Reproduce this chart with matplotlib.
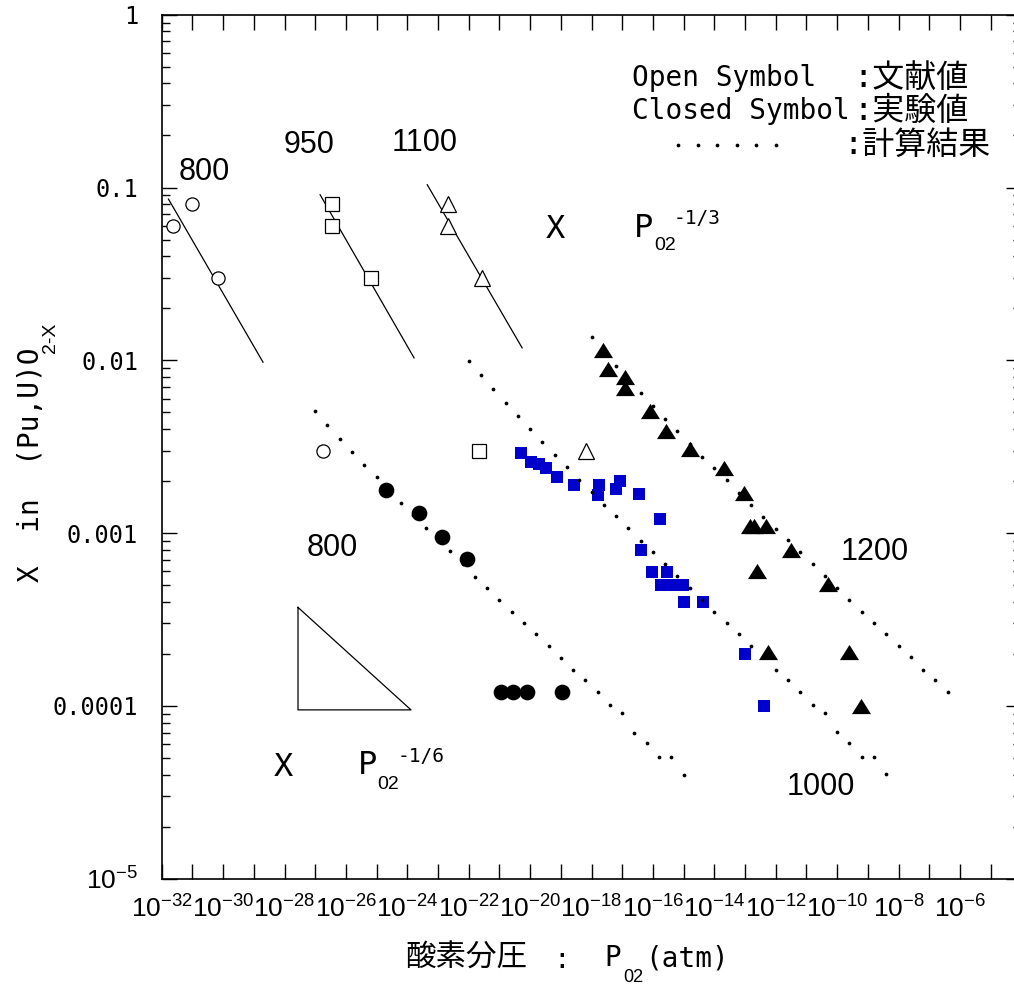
"""Non-stoichiometry of (Pu,U)O2-x versus oxygen partial pressure."""
import matplotlib
matplotlib.use("Agg")
import matplotlib.pyplot as plt
from matplotlib.ticker import FixedLocator, FuncFormatter, NullFormatter
import numpy as np

MONO = "DejaVu Sans Mono"
SANS = "Liberation Sans"
CJK = "Noto Sans CJK JP"
plt.rcParams["font.family"] = [MONO, CJK]
plt.rcParams["mathtext.fontset"] = "custom"
plt.rcParams["mathtext.rm"] = SANS
plt.rcParams["mathtext.it"] = SANS
plt.rcParams["mathtext.default"] = "rm"

# ---- literature values (open symbols): log10 P_O2 [atm], x -----------------
lit_800_logp = [-31.62, -31.02, -30.16, -26.76]
lit_800_x = [0.06, 0.08, 0.03, 0.003]
lit_950_logp = [-26.46, -26.46, -25.18, -21.66]
lit_950_x = [0.08, 0.06, 0.03, 0.003]
lit_1100_logp = [-22.67, -22.67, -21.57, -18.18]
lit_1100_x = [0.08, 0.06, 0.03, 0.003]

# P^-1/3 fits through the literature data (end points, log10 values)
fit_800_logp = [-31.78, -28.70]
fit_800_logx = [-1.067, -2.011]
fit_950_logp = [-26.84, -23.78]
fit_950_logx = [-1.042, -1.986]
fit_1100_logp = [-23.35, -20.26]
fit_1100_logx = [-0.984, -1.928]

# ---- experimental values (closed symbols) ----------------------------------
exp_800_logp = [-24.69, -23.63, -22.88, -22.07, -20.95, -20.57, -20.11, -18.97]
exp_800_x = [0.00177, 0.0013, 0.00095, 0.00071, 0.00012, 0.00012, 0.00012, 0.00012]

exp_1000_logp = [-20.29, -19.97, -19.72, -19.47, -19.13, -18.58, -17.77, -17.79,
                 -17.19, -17.08, -16.46, -15.76, -16.40, -16.02, -15.54, -15.72,
                 -15.40, -15.02, -14.98, -14.38, -13.00, -12.37]
exp_1000_x = [0.00289, 0.00257, 0.00252, 0.00239, 0.00211, 0.00189, 0.00189, 0.00167,
              0.00179, 0.00200, 0.00169, 0.00120, 0.000797, 0.000595, 0.000595, 0.0005,
              0.0005, 0.0005, 0.0004, 0.0004, 0.000201, 0.0001]

exp_1200_logp = [-17.63, -17.45, -16.92, -16.90, -16.11, -15.56, -14.79, -13.70,
                 -13.04, -12.85, -12.71, -12.30, -11.51, -12.62, -10.31, -12.26,
                 -9.62, -9.23]
exp_1200_x = [0.0115, 0.0089, 0.0080, 0.0069, 0.00507, 0.00389, 0.00308, 0.00239,
              0.00170, 0.00110, 0.00110, 0.00110, 0.00080, 0.00060, 0.000505, 0.000204,
              0.000204, 0.0001]

# ---- calculated curves (log10 P_O2, log10 x) -------------------------------
calc_800_logp = [-27.0, -26.6, -26.2, -25.8, -25.4, -25.0, -24.6, -24.2, -23.8, -23.4,
                 -23.0, -22.6, -22.2, -21.8, -21.4, -21.0, -20.6, -20.2, -19.8, -19.4,
                 -19.0, -18.6, -18.2, -17.8, -17.4, -17.0, -16.6, -16.2, -15.8, -15.4,
                 -15.0]
calc_800_logx = [-2.292, -2.373, -2.453, -2.530, -2.605, -2.678, -2.753, -2.824, -2.898,
                 -2.971, -3.036, -3.104, -3.180, -3.252, -3.318, -3.387, -3.457, -3.522,
                 -3.584, -3.655, -3.720, -3.792, -3.851, -3.917, -3.996, -4.042, -4.154,
                 -4.217, -4.298, -4.298, -4.397]

calc_1000_logp = [-22.0, -21.6, -21.2, -20.8, -20.4, -20.0, -19.6, -19.2, -18.8, -18.4,
                  -18.0, -17.6, -17.2, -16.8, -16.4, -16.0, -15.6, -15.2, -14.8, -14.4,
                  -14.0, -13.6, -13.2, -12.8, -12.4, -12.0, -11.6, -11.2, -10.8, -10.4,
                  -10.0, -9.6, -9.2, -8.8, -8.4]
calc_1000_logx = [-2.006, -2.087, -2.168, -2.246, -2.321, -2.399, -2.474, -2.547, -2.620,
                  -2.694, -2.761, -2.836, -2.903, -2.973, -3.043, -3.112, -3.177, -3.250,
                  -3.318, -3.387, -3.454, -3.522, -3.584, -3.653, -3.719, -3.792, -3.851,
                  -3.917, -3.996, -4.040, -4.152, -4.217, -4.298, -4.298, -4.395]

calc_1200_logp = [-18.0, -17.6, -17.2, -16.8, -16.4, -16.0, -15.6, -15.2, -14.8, -14.4,
                  -14.0, -13.6, -13.2, -12.8, -12.4, -12.0, -11.6, -11.2, -10.8, -10.4,
                  -10.0, -9.6, -9.2, -8.8, -8.4, -8.0, -7.6, -7.2, -6.8, -6.4]
calc_1200_logx = [-1.867, -1.950, -2.031, -2.109, -2.187, -2.262, -2.337, -2.412, -2.484,
                  -2.557, -2.626, -2.695, -2.768, -2.840, -2.908, -2.977, -3.042, -3.112,
                  -3.179, -3.249, -3.318, -3.387, -3.454, -3.522, -3.584, -3.653, -3.718,
                  -3.792, -3.851, -3.917]

# slope guide for x ~ P^-1/6
guide_logp = [-27.56, -27.56, -23.88, -27.56]
guide_logx = [-3.43, -4.023, -4.023, -3.43]


def p(vals):
    return 10.0 ** np.asarray(vals)


W, H = 1014, 991
fig = plt.figure(figsize=(W / 100, H / 100), dpi=100)
# the right-hand frame runs just past the edge of the page
ax = fig.add_axes([161.7 / W, 1 - 878.7 / H, (1021.3 - 161.7) / W, (878.7 - 14.7) / H])
ax.set_xscale("log")
ax.set_yscale("log")
ax.set_xlim(1e-32, 1e-4)
ax.set_ylim(1e-5, 1)

# open symbols + fitted lines
ax.plot(p(lit_800_logp), lit_800_x, "o", ms=9.5, mfc="white", mec="black", mew=0.9, zorder=4)
ax.plot(p(lit_950_logp), lit_950_x, "s", ms=10.5, mfc="white", mec="black", mew=0.9, zorder=4)
ax.plot(p(lit_1100_logp), lit_1100_x, "^", ms=11, mfc="white", mec="black", mew=0.9, zorder=4)
for lp, lx in [(fit_800_logp, fit_800_logx), (fit_950_logp, fit_950_logx),
               (fit_1100_logp, fit_1100_logx)]:
    ax.plot(p(lp), p(lx), color="black", lw=0.9, zorder=3)

# closed symbols
flat_tri = [(-1, -0.8), (1, -0.8), (0, 0.8), (-1, -0.8)]
ax.plot(p(exp_800_logp), exp_800_x, "o", ms=11.3, color="black", mew=0, zorder=4)
ax.plot(p(exp_1000_logp), exp_1000_x, "s", ms=8.4, color="#0000cc", mew=0, zorder=4)
ax.plot(p(exp_1200_logp), exp_1200_x, marker=flat_tri, ls="none", ms=13.7,
        color="black", mew=0, zorder=4)

# calculated points
for lp, lx in [(calc_800_logp, calc_800_logx), (calc_1000_logp, calc_1000_logx),
               (calc_1200_logp, calc_1200_logx)]:
    ax.plot(p(lp), p(lx), "o", ms=2.7, color="black", mew=0, zorder=5)

ax.plot(p(guide_logp), p(guide_logx), color="black", lw=0.9)

# temperature labels
for lp, lx, s in [(-30.62, -0.909, "800"), (-27.2, -0.753, "950"), (-23.42, -0.742, "1100"),
                  (-26.45, -3.087, "800"), (-8.78, -3.112, "1200"), (-10.54, -4.470, "1000")]:
    ax.text(10 ** lp, 10 ** lx, s, fontsize=22, family=SANS, ha="center", va="center")

# X ~ P_O2^n annotations
for xp, pp, sub, sup, expo in [((-19.19, -1.245), (-16.62, -1.239), (-15.95, -1.337),
                                (-15.34, -1.178), "-1/3"),
                               ((-28.05, -4.354), (-25.61, -4.347), (-24.97, -4.455),
                                (-24.30, -4.291), "-1/6")]:
    ax.text(10 ** xp[0], 10 ** xp[1], "X", fontsize=23, ha="center", va="center")
    ax.text(10 ** pp[0], 10 ** pp[1], "P", fontsize=23, ha="left", va="center")
    ax.text(10 ** sub[0], 10 ** sub[1], "02", fontsize=14, family=SANS, ha="left", va="center")
    ax.text(10 ** sup[0], 10 ** sup[1], expo, fontsize=14, ha="left", va="center")

# axes decoration
xt = 10.0 ** np.arange(-32, -3)
ax.xaxis.set_major_locator(FixedLocator(xt))
ax.xaxis.set_minor_locator(FixedLocator([]))
ax.xaxis.set_minor_formatter(NullFormatter())


def xfmt(v, pos):
    e = int(round(np.log10(v)))
    if e % 2 == 0 and e <= -6:
        return r"$10^{%d}$" % e
    return ""


ax.xaxis.set_major_formatter(FuncFormatter(xfmt))

ylabels = {-5: r"$10^{-5}$", -4: "0.0001", -3: "0.001", -2: "0.01", -1: "0.1", 0: "1"}
ax.yaxis.set_major_locator(FixedLocator(10.0 ** np.arange(-5, 1)))
ax.yaxis.set_major_formatter(FuncFormatter(lambda v, pos: ylabels.get(int(round(np.log10(v))), "")))
ax.yaxis.set_minor_locator(FixedLocator([m * 10.0 ** e for e in range(-5, 0) for m in range(2, 10)]))
ax.yaxis.set_minor_formatter(NullFormatter())

ax.tick_params(which="both", direction="in", top=True, right=True, width=1)
ax.tick_params(which="major", length=10.8)
ax.tick_params(which="minor", length=5.8)
ax.tick_params(axis="x", labelsize=19, pad=13)
ax.tick_params(axis="y", labelsize=17, pad=17)
# the 10^-5 label is set in the same size as the x labels
ax.yaxis.get_major_ticks()[0].label1.set_fontsize(19)
for sp in ax.spines.values():
    sp.set_linewidth(1.2)

# axis titles
fig.text(31 / W, 1 - 465 / H, "X  in  (Pu,U)O", rotation=90, fontsize=20,
         ha="center", va="center")
fig.text(51 / W, 1 - 338 / H, "2-X", rotation=90, fontsize=14, family=SANS,
         ha="center", va="center")
fig.text(405 / W, 1 - 958 / H, "酸素分圧", family=CJK, fontsize=22, ha="left", va="center")
fig.text(562 / W, 1 - 960 / H, ":", fontsize=20, ha="center", va="center")
fig.text(604 / W, 1 - 958 / H, "P", fontsize=20, ha="left", va="center")
fig.text(623 / W, 1 - 977 / H, "02", fontsize=13, family=SANS, ha="left", va="center")
fig.text(645 / W, 1 - 958 / H, "(atm)", fontsize=20, ha="left", va="center")

# key
fam = [MONO, CJK]
fig.text(632 / W, 1 - 78 / H, "Open Symbol", fontsize=20, family=fam, ha="left", va="center")
fig.text(853 / W, 1 - 78 / H, ":文献値", fontsize=23, family=fam, ha="left", va="center")
fig.text(632 / W, 1 - 111 / H, "Closed Symbol", fontsize=20, family=fam, ha="left", va="center")
fig.text(853 / W, 1 - 111 / H, ":実験値", fontsize=23, family=fam, ha="left", va="center")
fig.text(843 / W, 1 - 145 / H, ":計算結果", fontsize=23, family=fam, ha="left", va="center")
fig.add_artist(plt.Line2D(np.linspace(678, 776, 6) / W, [1 - 145 / H] * 6, ls="none",
                          marker="o", ms=2.7, color="black", mew=0))

fig.savefig("out.png", dpi=100)
